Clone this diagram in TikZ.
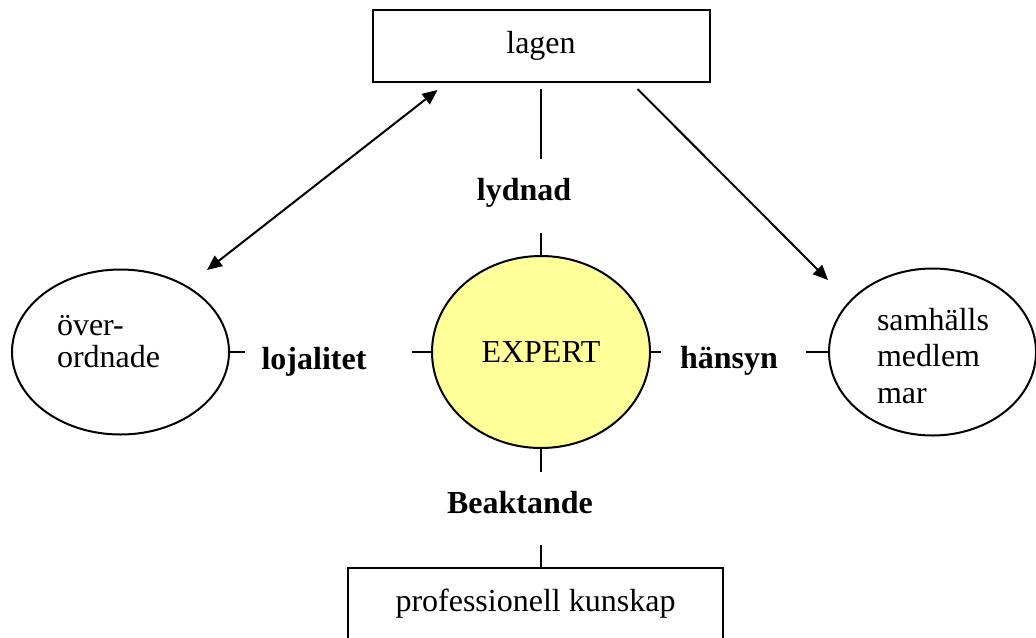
\documentclass[tikz,border=0pt]{standalone}
\usepackage{fontspec}
\setmainfont{Liberation Serif}
\usepackage{tikz}
\usetikzlibrary{arrows.meta,positioning,shapes.geometric,calc}
\definecolor{expertyellow}{RGB}{255,255,153}

\begin{document}
\begin{tikzpicture}[x=0.5pt, y=-0.5pt, line width=1pt,
  every node/.style={font=\fontsize{16}{18.25}\selectfont},
  box/.style={draw, rectangle, inner sep=0pt},
  oval/.style={draw, ellipse, inner sep=0pt},
  word/.style={font=\fontsize{16}{18.25}\selectfont\bfseries, anchor=base},
  tip/.style={-{Triangle[length=7.5pt,width=6.5pt]}},
  tips/.style={{Triangle[length=7.5pt,width=6.5pt]}-{Triangle[length=7.5pt,width=6.5pt]}}]
  \useasboundingbox (0,0) rectangle (1036,637);
  \clip (0,0) rectangle (1036,637);

  % Boxes and ovals
  \node[box, minimum width=168.5pt, minimum height=36pt] (lagen) at (541,46) {lagen};
  \node[box, minimum width=187.5pt, minimum height=36pt] (kunskap) at (535.5,604) {professionell kunskap};
  \node[oval, fill=expertyellow, minimum width=109pt, minimum height=96pt] (expert) at (541,352) {EXPERT};
  \node[oval, minimum width=108.5pt, minimum height=82.5pt] (over) at (120.5,352) {};
  \node[oval, minimum width=103.5pt, minimum height=83.5pt] (samh) at (932.5,352) {};

  % Texts in the ovals (base = last line)
  \node[align=left, anchor=base west, inner sep=0pt, font=\fontsize{16}{16}\selectfont] (overtxt) at (56,367) {över-\\ordnade};
  \node[align=left, anchor=base west, inner sep=0pt] (samhtxt) at (876,403) {samhälls\\medlem\\mar};

  % Labels
  \node[word] (lydnad) at (524,200) {lydnad};
  \node[word] (lojalitet) at (314,369) {lojalitet};
  \node[word] (hansyn) at (729,368) {hänsyn};
  \node[word] (beakt) at (520,513) {Beaktande};

  % Tick ends
  \coordinate (up1) at (541,159);
  \coordinate (up2) at (541,233);
  \coordinate (dn1) at (541,472);
  \coordinate (dn2) at (541,545);
  \coordinate (lt1) at (245,352);
  \coordinate (lt2) at (412,352);
  \coordinate (rt1) at (661,352);
  \coordinate (rt2) at (806,352);

  \draw ([yshift=-3pt]lagen.south) -- (up1);
  \draw (up2) -- (expert.north);
  \draw (expert.south) -- (dn1);
  \draw (dn2) -- (kunskap.north -| dn2);
  \draw (over.east) -- (lt1);
  \draw (lt2) -- (expert.west);
  \draw (expert.east) -- (rt1);
  \draw (rt2) -- (samh.west);

  % Arrows
  \coordinate (overtip) at (207,270);
  \coordinate (samhtip) at (828,280);
  \draw[tips] (overtip) -- ($(lagen.south west)+(66,7)$);
  \draw[tip] ($(lagen.south east)+(-73,6)$) -- (samhtip);
\end{tikzpicture}
\end{document}
